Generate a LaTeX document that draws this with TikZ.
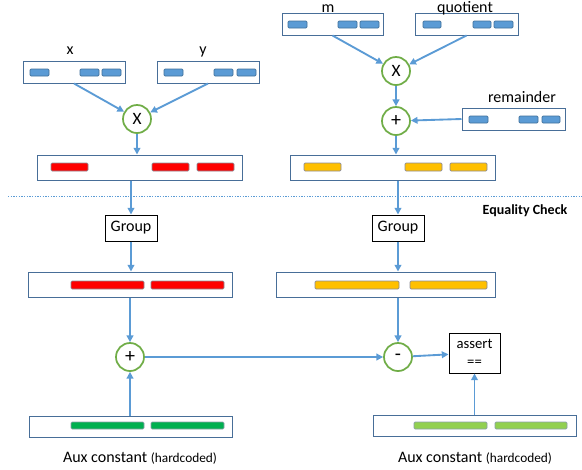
\documentclass[tikz,border=0pt]{standalone}
\usepackage{fontspec}
\setmainfont{Carlito}
\usetikzlibrary{arrows.meta}
\tikzset{every picture/.style={line width=0.75pt}}

\begin{document}
\begin{tikzpicture}[x=0.75pt,y=0.75pt,yscale=-1,xscale=1,
  reg/.style={draw={rgb, 255:red, 72; green, 110; blue, 152}, fill=white, inner sep=0pt, minimum height=16.5pt},
  wide/.style={reg, minimum height=18.75pt},
  op/.style={circle, draw={rgb, 255:red, 112; green, 173; blue, 71}, line width=1.3pt, fill=white, minimum size=21pt, inner sep=0pt, font=\fontsize{13}{13}\selectfont},
  sign/.style={op, font=\fontsize{15}{15}\selectfont},
  blk/.style={draw=black, fill=white, inner sep=0pt, font=\fontsize{12}{13}\selectfont},
  wire/.style={color={rgb, 255:red, 91; green, 155; blue, 213}, line width=1.4pt, -{Triangle[length=5pt,width=5pt]}},
  chunkblue/.style={fill={rgb, 255:red, 91; green, 155; blue, 213}, draw={rgb, 255:red, 65; green, 113; blue, 156}, line width=0.5pt, rounded corners=0.8pt},
  chunkred/.style={fill={rgb, 255:red, 255; green, 0; blue, 0}, draw={rgb, 255:red, 140; green, 140; blue, 150}, line width=0.5pt, rounded corners=0.8pt},
  chunkyel/.style={fill={rgb, 255:red, 255; green, 192; blue, 0}, draw={rgb, 255:red, 140; green, 140; blue, 150}, line width=0.5pt, rounded corners=0.8pt},
  chunkgrn/.style={fill={rgb, 255:red, 0; green, 176; blue, 80}, draw={rgb, 255:red, 140; green, 160; blue, 170}, line width=0.5pt, rounded corners=0.8pt},
  chunklime/.style={fill={rgb, 255:red, 146; green, 208; blue, 80}, draw={rgb, 255:red, 140; green, 160; blue, 170}, line width=0.5pt, rounded corners=0.8pt},
  lbl/.style={anchor=base, font=\fontsize{12}{13}\selectfont}]
\useasboundingbox (0,0) rectangle (582,469);

%Shape: Rectangle (x input)
\node [reg, minimum width=76.5pt] (xbox) at (74,72) {};
\foreach \a/\b in {30/49,80/99,102/121} \draw [chunkblue] (\a,69) rectangle (\b,76);
%Shape: Rectangle (y input)
\node [reg, minimum width=76.5pt] (ybox) at (208,72) {};
\foreach \a/\b in {164/183,214/233,237/256} \draw [chunkblue] (\a,69) rectangle (\b,76);
%Shape: Rectangle (m input)
\node [reg, minimum width=75.75pt] (mbox) at (332.5,24) {};
\foreach \a/\b in {288/307,338/357,360/379} \draw [chunkblue] (\a,21) rectangle (\b,28);
%Shape: Rectangle (quotient input)
\node [reg, minimum width=77.25pt] (qbox) at (466.5,24) {};
\foreach \a/\b in {423/441,473/491,494/513} \draw [chunkblue] (\a,21) rectangle (\b,28);
%Shape: Rectangle (remainder input)
\node [reg, minimum width=77.25pt] (rembox) at (513.5,119) {};
\foreach \a/\b in {469/488,519/538,542/560} \draw [chunkblue] (\a,116) rectangle (\b,123);

%Shape: Circle
\node [op] (mulL) at (137,119) {X};
\node [op] (mulR) at (396,71) {X};
\node [sign] (addR) at (396,121) {+};

%Shape: Rectangle (products)
\node [wide, minimum width=153.75pt] (redA) at (139.5,167.5) {};
\foreach \a/\b in {51/88,152/189,197/234} \draw [chunkred] (\a,163) rectangle (\b,171);
\node [wide, minimum width=153.75pt] (yelA) at (392.5,167.5) {};
\foreach \a/\b in {304/341,405/442,450/487} \draw [chunkyel] (\a,163) rectangle (\b,171);

%Straight Lines (separator)
\draw [color={rgb, 255:red, 91; green, 155; blue, 213}, line width=0.6pt, dash pattern={on 1pt off 1pt}] (8,196) -- (582,196);

%Shape: Rectangle (group)
\node [blk, minimum width=39pt, minimum height=19.5pt] (groupL) at (131,228) {Group};
\node [blk, minimum width=39pt, minimum height=19.5pt] (groupR) at (398,228) {Group};

%Shape: Rectangle (grouped limbs)
\node [wide, minimum width=153pt] (redB) at (130,284.5) {};
\foreach \a/\b in {71/144,151/224} \draw [chunkred] (\a,281) rectangle (\b,289);
\node [wide, minimum width=164.25pt] (yelB) at (385.5,284.5) {};
\foreach \a/\b in {315/399,410/487} \draw [chunkyel] (\a,281) rectangle (\b,289);

%Shape: Circle
\node [sign] (addL) at (130,357) {+};
\node [sign] (subR) at (398,357) {-};
%Shape: Rectangle (assert)
\node [blk, minimum width=38.25pt, minimum height=30pt, align=center, font=\fontsize{11}{13}\selectfont] (assert) at (474.5,353) {assert\\==};

%Shape: Rectangle (aux constants)
\node [reg, minimum width=152.25pt, minimum height=15.75pt] (auxL) at (130.5,426.5) {};
\foreach \a/\b in {71/144,151/224} \draw [chunkgrn] (\a,422) rectangle (\b,429);
\node [reg, minimum width=152.25pt, minimum height=15.75pt] (auxR) at (474.5,425.5) {};
\foreach \a/\b in {414/487,495/567} \draw [chunklime] (\a,422) rectangle (\b,429);

%Straight Lines (connectors)
\draw [wire] (xbox.south) -- (mulL);
\draw [wire] (ybox.south) -- (mulL);
\draw [wire] (mulL) -- (mulL |- redA.north);
\draw [wire] (groupL |- redA.south) -- (groupL);
\draw [wire] (groupL) -- (groupL |- redB.north);
\draw [wire] (addL |- redB.south) -- (addL);
\draw [wire] (addL |- auxL.north) -- (addL);
\draw [wire] (addL) -- (subR);
\draw [wire] (mbox.south) -- (mulR);
\draw [wire] (qbox.south) -- (mulR);
\draw [wire] (mulR) -- (addR);
\draw [wire] (rembox.west) -- (addR);
\draw [wire] (addR) -- (addR |- yelA.north);
\draw [wire] (groupR |- yelA.south) -- (groupR);
\draw [wire] (groupR) -- (groupR |- yelB.north);
\draw [wire] (subR |- yelB.south) -- (subR);
\draw [wire] (subR) -- (assert);
\draw [wire] (auxR.north) -- (assert);

% Text Node
\node [lbl] (xlbl) at (70,54) {x};
% Text Node
\node [lbl] (ylbl) at (203,54) {y};
% Text Node
\node [lbl] (mlbl) at (328,12) {m};
% Text Node
\node [lbl] (qlbl) at (465,12) {quotient};
% Text Node
\node [lbl] (remlbl) at (522,102) {remainder};
% Text Node
\node [anchor=base, font=\fontsize{10.5}{12}\selectfont\bfseries] (eqlbl) at (525,214) {Equality Check};
% Text Node
\node [lbl] (auxLlbl) at (140,462) {Aux constant {\fontsize{10}{12}\selectfont(hardcoded)}};
% Text Node
\node [lbl] (auxRlbl) at (475,462) {Aux constant {\fontsize{10}{12}\selectfont(hardcoded)}};

\end{tikzpicture}
\end{document}
